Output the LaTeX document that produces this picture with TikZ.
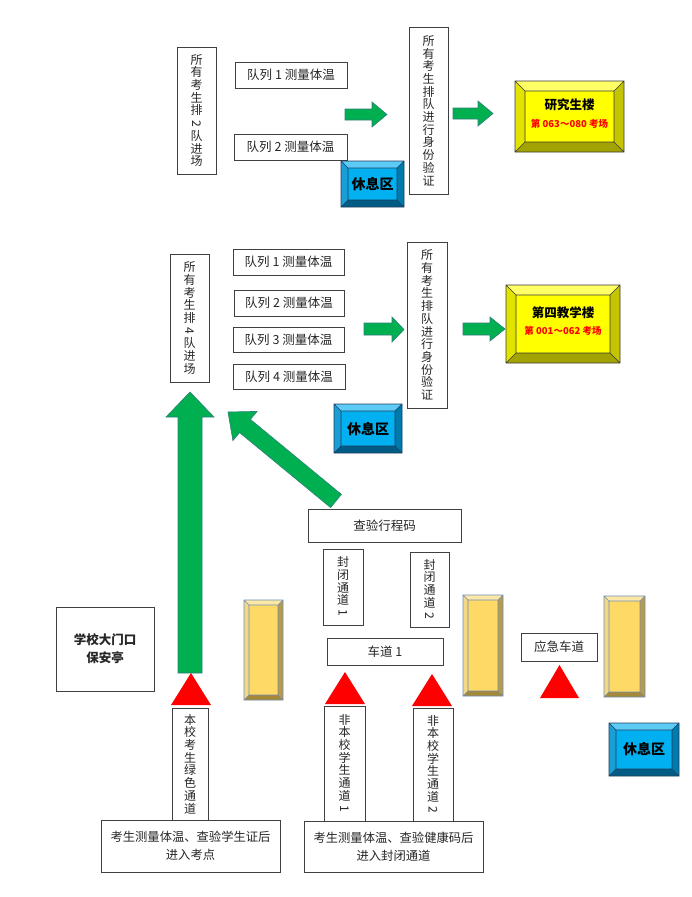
\documentclass[tikz,border=0pt]{standalone}
\usepackage{fontspec}
\setmainfont{Noto Sans CJK SC}
\definecolor{boxline}{HTML}{404040}
\definecolor{txt}{HTML}{262626}
\definecolor{garrow}{HTML}{00B050}
\definecolor{garrowline}{HTML}{2F7F7A}
\definecolor{yface}{HTML}{FFFF00}
\definecolor{ytop}{HTML}{FFFF66}
\definecolor{yleft}{HTML}{E3E300}
\definecolor{yright}{HTML}{C4C400}
\definecolor{ybot}{HTML}{A3A300}
\definecolor{yline}{HTML}{3A3A3A}
\definecolor{bface}{HTML}{00B0F0}
\definecolor{btop}{HTML}{5CCBF6}
\definecolor{bleft}{HTML}{1A9ED6}
\definecolor{bright}{HTML}{0079AD}
\definecolor{bbot}{HTML}{005C85}
\definecolor{bline}{HTML}{1F3F5F}
\definecolor{gface}{HTML}{FFD966}
\definecolor{gtop}{HTML}{FCE8A6}
\definecolor{gleft}{HTML}{F3D888}
\definecolor{gright}{HTML}{B89A48}
\definecolor{gbot}{HTML}{A58838}
\definecolor{gline}{HTML}{6F8FB8}
\newcommand{\rdig}[1]{\rotatebox[origin=c]{-90}{#1}}
\newcommand{\bevbox}[6]{%
  \fill[#6face] (#1,#2) rectangle (#3,#4);
  \fill[#6top] (#1,#2) -- (#3,#2) -- ({#3-#5},{#2+#5}) -- ({#1+#5},{#2+#5}) -- cycle;
  \fill[#6left] (#1,#2) -- ({#1+#5},{#2+#5}) -- ({#1+#5},{#4-#5}) -- (#1,#4) -- cycle;
  \fill[#6right] (#3,#2) -- (#3,#4) -- ({#3-#5},{#4-#5}) -- ({#3-#5},{#2+#5}) -- cycle;
  \fill[#6bot] (#1,#4) -- ({#1+#5},{#4-#5}) -- ({#3-#5},{#4-#5}) -- (#3,#4) -- cycle;
  \draw[#6line, line width=0.6pt] (#1,#2) rectangle (#3,#4)
    ({#1+#5},{#2+#5}) rectangle ({#3-#5},{#4-#5})
    (#1,#2) -- ({#1+#5},{#2+#5}) (#3,#2) -- ({#3-#5},{#2+#5})
    (#1,#4) -- ({#1+#5},{#4-#5}) (#3,#4) -- ({#3-#5},{#4-#5});
}
\tikzset{
  hbox/.style={draw=boxline, line width=0.8pt, fill=white, inner sep=0pt, text=txt,
    font=\fontsize{12.5}{14}\selectfont},
  vbox/.style={hbox, align=center, font=\fontsize{12}{12.7}\selectfont},
  twoline/.style={hbox, align=center, font=\fontsize{12.3}{18}\selectfont},
  bigarrow/.style={fill=garrow, draw=garrowline, line width=0.6pt},
  redtri/.style={fill=red, draw=none},
  resttext/.style={font=\fontsize{14}{16}\selectfont\bfseries, text=black},
  bldgtext/.style={font=\fontsize{12.5}{14}\selectfont\bfseries, text=black},
  roomtext/.style={font=\fontsize{9.5}{11}\selectfont\bfseries, text=red},
}
\begin{document}
\begin{tikzpicture}[x=1pt,y=-1pt]
\useasboundingbox (0,0) rectangle (691,897);

% ---------- top section ----------
\node[vbox, minimum width=39pt, minimum height=127pt] (q2) at (196.5,110.5)
  {所\\有\\考\\生\\排\\\rdig{2}\\队\\进\\场};
\node[hbox, minimum width=112pt, minimum height=26pt] (t1) at (291,75) {队列 1 测量体温};
\node[hbox, minimum width=113pt, minimum height=26pt] (t2) at (290.5,147) {队列 2 测量体温};
\bevbox{341}{161}{404}{207}{7}{b}
\node[resttext] (rest1) at (372.5,184) {休息区};
\node[vbox, minimum width=39pt, minimum height=167pt] (id1) at (428.5,110.5)
  {所\\有\\考\\生\\排\\队\\进\\行\\身\\份\\验\\证};
\bevbox{515}{81}{624}{152}{10}{y}
\node[bldgtext] (b1) at (569.5,105) {研究生楼};
\node[roomtext] (r1) at (569.5,124) {第 063～080 考场};
\draw[bigarrow] (345,109) -- (372,109) -- (372,102) -- (387,114.5) -- (372,127) -- (372,120) -- (345,120) -- cycle;
\draw[bigarrow] (453,108) -- (478,108) -- (478,101) -- (493,113.5) -- (478,126) -- (478,119) -- (453,119) -- cycle;

% ---------- middle section ----------
\node[vbox, minimum width=39pt, minimum height=128pt] (q4) at (189.5,318)
  {所\\有\\考\\生\\排\\\rdig{4}\\队\\进\\场};
\node[hbox, minimum width=111pt, minimum height=26pt] (m1) at (288.5,262) {队列 1 测量体温};
\node[hbox, minimum width=110pt, minimum height=26pt] (m2) at (289,303) {队列 2 测量体温};
\node[hbox, minimum width=111pt, minimum height=25pt] (m3) at (288.5,339.5) {队列 3 测量体温};
\node[hbox, minimum width=112pt, minimum height=25pt] (m4) at (289,376.5) {队列 4 测量体温};
\node[vbox, minimum width=40pt, minimum height=166pt] (id2) at (427,325)
  {所\\有\\考\\生\\排\\队\\进\\行\\身\\份\\验\\证};
\bevbox{334}{404}{402}{453}{7}{b}
\node[resttext] (rest2) at (368,429) {休息区};
\bevbox{506}{285}{620}{363}{10}{y}
\node[bldgtext] (b2) at (563,313) {第四教学楼};
\node[roomtext] (r2) at (563,331) {第 001～062 考场};
\draw[bigarrow] (364,323) -- (392,323) -- (392,317) -- (404,329.5) -- (392,342) -- (392,335) -- (364,335) -- cycle;
\draw[bigarrow] (463,323) -- (490,323) -- (490,317) -- (505,329) -- (490,341) -- (490,335) -- (463,335) -- cycle;

% big vertical arrow
\draw[bigarrow] (178,673) -- (178,417) -- (166,417) -- (190,392) -- (214,417) -- (202,417) -- (202,673) -- cycle;
% diagonal arrow
\draw[bigarrow] (341.4,494.4) -- (250.4,419.4) -- (257.1,411.4) -- (228,412) -- (232.9,440.6) -- (239.6,432.6) -- (330.6,507.6) -- cycle;

% ---------- bottom section ----------
\node[hbox, align=center, minimum width=98pt, minimum height=84pt,
  font=\fontsize{12.5}{18}\selectfont\bfseries] (gate) at (105,649) {学校大门口\\保安亭};
\node[hbox, minimum width=153pt, minimum height=33pt] (check) at (384.5,525.5) {查验行程码};
\node[vbox, minimum width=40pt, minimum height=76pt] (c1) at (343,587) {封\\闭\\通\\道\\\rdig{1}};
\node[vbox, minimum width=39pt, minimum height=75pt] (c2) at (429.5,589.5) {封\\闭\\通\\道\\\rdig{2}};
\node[hbox, minimum width=116pt, minimum height=27pt] (lane1) at (385,651.5) {车道 1};
\node[hbox, minimum width=76pt, minimum height=28pt] (emerg) at (559,647) {应急车道};

\bevbox{244}{600}{283}{700}{5}{g}
\bevbox{463}{595}{503}{696}{5}{g}
\bevbox{604}{596}{645}{697}{5}{g}
\bevbox{609}{723}{679}{776}{7}{b}
\node[resttext] (rest3) at (644,749.5) {休息区};

\fill[redtri] (191,673) -- (211,705) -- (171,705) -- cycle;
\fill[redtri] (345,672) -- (365,704) -- (325,704) -- cycle;
\fill[redtri] (432,674) -- (452,706) -- (412,706) -- cycle;
\fill[redtri] (559.5,665) -- (579,698) -- (540,698) -- cycle;

\node[vbox, minimum width=36pt, minimum height=112pt] (green) at (190,764)
  {本\\校\\考\\生\\绿\\色\\通\\道};
\node[vbox, minimum width=41pt, minimum height=115pt] (n1) at (344.5,763.5)
  {非\\本\\校\\学\\生\\通\\道\\\rdig{1}};
\node[vbox, minimum width=40pt, minimum height=113pt] (n2) at (433,764.5)
  {非\\本\\校\\学\\生\\通\\道\\\rdig{2}};
\node[twoline, minimum width=179pt, minimum height=52pt] (bl) at (190.5,846)
  {考生测量体温、查验学生证后\\进入考点};
\node[twoline, minimum width=179pt, minimum height=51pt] (br) at (393.5,846.5)
  {考生测量体温、查验健康码后\\进入封闭通道};
\end{tikzpicture}
\end{document}
